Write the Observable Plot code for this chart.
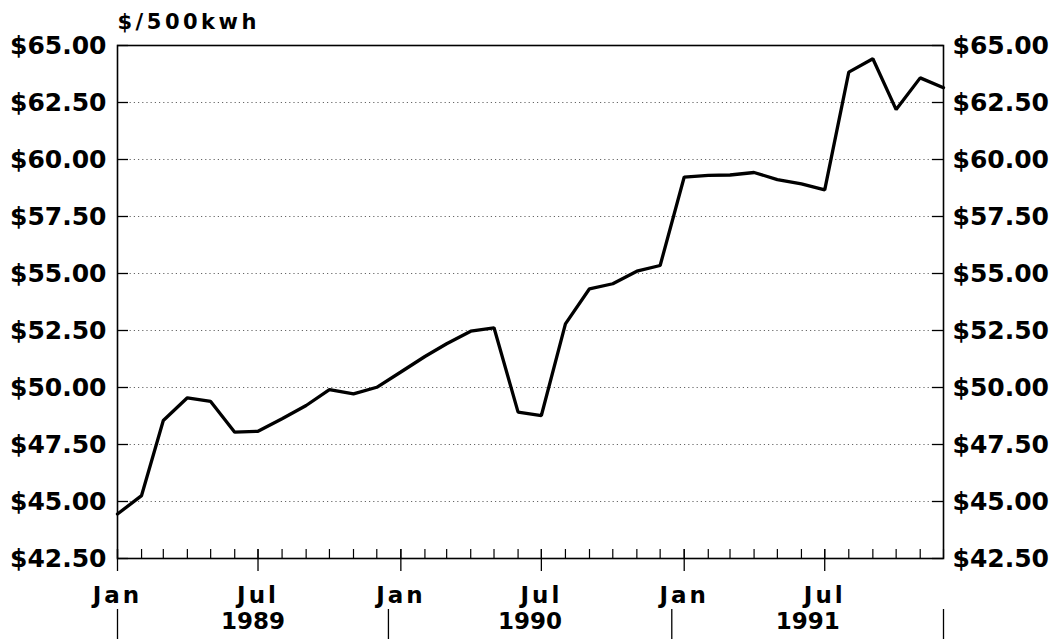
<!DOCTYPE html>
<html>
<head>
<meta charset="utf-8">
<script src="https://cdn.jsdelivr.net/npm/d3@7"></script>
<script src="https://cdn.jsdelivr.net/npm/@observablehq/plot@0.6"></script>
<style>
  html, body { margin: 0; padding: 0; background: #fff; }
  #chart svg { display: block; }
  g[aria-label="x-axis tick label"] text { letter-spacing: 3px; }
  text.unit-title, g.unit-title text { letter-spacing: 3.5px; }
</style>
</head>
<body>
<div id="chart"></div>
<script>
// Monthly electricity price, $/500kwh, Jan 1989 – Dec 1991
const months = d3.utcMonth.range(new Date(Date.UTC(1989, 0, 1)), new Date(Date.UTC(1992, 0, 1)));
const prices = [
  44.45, 45.26, 48.55, 49.55, 49.39, 48.04, 48.08, 48.63, 49.21, 49.91, 49.72, 50.01,
  50.68, 51.36, 51.92, 52.47, 52.62, 48.92, 48.77, 52.79, 54.33, 54.55, 55.10, 55.35,
  59.23, 59.30, 59.32, 59.43, 59.12, 58.93, 58.67, 63.83, 64.42, 62.19, 63.58, 63.15
];
const yTicks = [42.5, 45, 47.5, 50, 52.5, 55, 57.5, 60, 62.5, 65];
const majorTicks = ["1989-01-01", "1989-07-01", "1990-01-01", "1990-07-01", "1991-01-01", "1991-07-01"].map(d => new Date(d));
const yearLabels = ["1989", "1990", "1991"];
const yearBounds = ["1989-01-01", "1989-12-16", "1990-12-16", "1991-12-01"].map(d => new Date(d));
const unitLabel = "$/500kwh";

const data = months.map((date, i) => ({date, price: prices[i]}));
const years = yearLabels.map((label, i) => ({
  label,
  date: new Date((+yearBounds[i] + +yearBounds[i + 1]) / 2)
}));

const W = 1059, H = 639;
const mL = 117, mR = 116, mT = 45, mB = 81;
const frameW = W - mL - mR, frameH = H - mT - mB;

const chart = Plot.plot({
  width: W,
  height: H,
  marginLeft: mL,
  marginRight: mR,
  marginTop: mT,
  marginBottom: mB,
  style: {fontFamily: "DejaVu Sans", fontWeight: "bold", fontSize: "24px", color: "#000", background: "#fff"},
  x: {type: "utc", domain: [months[0], months[months.length - 1]]},
  y: {domain: [42.5, 65]},
  marks: [
    Plot.gridY(yTicks, {stroke: "#666", strokeOpacity: 1, strokeWidth: 1, strokeDasharray: "1.2 3"}),
    // y ticks pointing inward, left and right
    Plot.ruleY(yTicks, {insetRight: frameW - 11, stroke: "#000", strokeWidth: 1.3}),
    Plot.ruleY(yTicks, {insetLeft: frameW - 11, stroke: "#000", strokeWidth: 1.3}),
    // month minor ticks
    Plot.ruleX(months, {insetTop: frameH - 9, stroke: "#000", strokeWidth: 1.2}),
    // major ticks (Jan/Jul) crossing axis
    Plot.ruleX(majorTicks, {insetTop: frameH - 9, insetBottom: -13, stroke: "#000", strokeWidth: 1.3}),
    // year separators
    Plot.ruleX(yearBounds, {insetTop: frameH + 51, insetBottom: -mB, stroke: "#000", strokeWidth: 1.3}),
    Plot.frame({stroke: "#000", strokeWidth: 1.6}),
    Plot.line(data, {x: "date", y: "price", stroke: "#000", strokeWidth: 3.3, strokeLinejoin: "miter"}),
    Plot.axisY(yTicks, {anchor: "left", tickSize: 0, tickPadding: 11, tickFormat: d => "$" + d.toFixed(2), fontSize: 25, label: null}),
    Plot.axisY(yTicks, {anchor: "right", tickSize: 0, tickPadding: 9, tickFormat: d => "$" + d.toFixed(2), fontSize: 25, label: null}),
    Plot.axisX(majorTicks, {anchor: "bottom", tickSize: 0, tickPadding: 28, tickFormat: d3.utcFormat("%b"), fontSize: 23, label: null}),
    Plot.text(years, {x: "date", text: "label", frameAnchor: "bottom", lineAnchor: "top", dy: 54, fontSize: 23}),
    Plot.text([unitLabel], {text: d => d, frameAnchor: "top-left", textAnchor: "start", lineAnchor: "middle", dy: -23, fontSize: 21, className: "unit-title"})
  ]
});
document.getElementById("chart").appendChild(chart);
</script>
</body>
</html>
